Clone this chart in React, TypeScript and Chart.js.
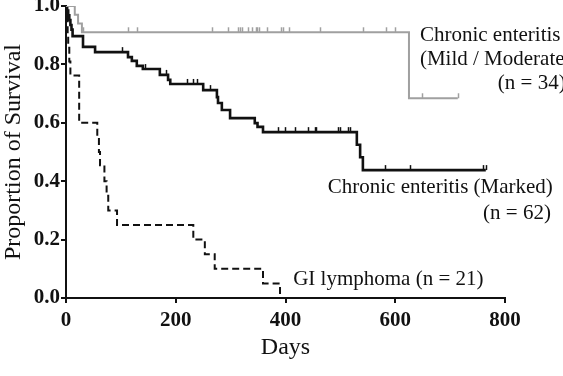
import { useEffect, useRef } from "react";
import { Chart, registerables } from "chart.js";

Chart.register(...registerables);

// ---- Data ----
// GI lymphoma (n = 21)
const giDays = [0, 2, 3, 4, 6, 8, 24, 57, 60, 62, 70, 74, 77, 93, 232, 253, 271, 359, 390];
const giSurv = [1.0, 0.952, 0.905, 0.857, 0.81, 0.762, 0.6, 0.55, 0.5, 0.455, 0.4, 0.35, 0.3, 0.25, 0.2, 0.15, 0.1, 0.05, 0.0];
const giCensor: number[] = [];

// Chronic enteritis (Marked) (n = 62)
const markedDays = [0, 2, 4, 6, 8, 10, 12, 31, 53, 113, 120, 129, 140, 171, 186, 190, 250, 275, 277, 284, 299, 344, 349, 359, 530, 536, 541, 765];
const markedSurv = [1.0, 0.984, 0.968, 0.952, 0.935, 0.919, 0.897, 0.86, 0.842, 0.825, 0.812, 0.795, 0.784, 0.764, 0.747, 0.733, 0.712, 0.688, 0.668, 0.644, 0.616, 0.599, 0.586, 0.568, 0.525, 0.482, 0.438, 0.438];
const markedCensor = [102, 144, 182, 220, 231, 239, 262, 386, 399, 417, 441, 454, 455, 495, 499, 514, 517, 581, 627, 760, 765];

// Chronic enteritis (Mild / Moderate) (n = 34)
const mildDays = [0, 16, 22, 29, 625, 714];
const mildSurv = [1.0, 0.97, 0.94, 0.91, 0.684, 0.684];
const mildCensor = [31, 113, 129, 266, 295, 313, 317, 321, 331, 339, 346, 348, 351, 366, 392, 395, 406, 463, 541, 583, 599, 648, 714];

// Axis ticks
const xTicks = [0, 200, 400, 600, 800];
const yTicks = [0, 0.2, 0.4, 0.6, 0.8, 1.0];

// Annotations (text + anchor in data coordinates)
const noteTexts = ["Chronic enteritis", "(Mild / Moderate)", "(n = 34)", "Chronic enteritis (Marked)", "(n = 62)", "GI lymphoma (n = 21)"];
const noteDays = [645, 645, 787, 477, 760, 414];
const noteSurv = [0.9, 0.818, 0.733, 0.377, 0.291, 0.062];

const SERIF = "'Liberation Serif', 'Times New Roman', serif";

function stepAt(days: number[], surv: number[], t: number) {
  let v = surv[0];
  for (let i = 0; i < days.length; i++) if (days[i] <= t) v = surv[i];
  return v;
}

const toPts = (d: number[], s: number[]) => d.map((x, i) => ({ x, y: s[i] }));

export default function App() {
  const ref = useRef<HTMLCanvasElement>(null);
  useEffect(() => {
    document.body.style.margin = "0";
    const canvas = ref.current!;

    const censorPlugin = {
      id: "censor",
      afterDatasetsDraw(chart: any) {
        const { ctx, scales } = chart;
        const xs = scales.x, ys = scales.y;
        const groups = [
          { d: mildDays, s: mildSurv, c: mildCensor, color: "#a0a0a0" },
          { d: markedDays, s: markedSurv, c: markedCensor, color: "#111" },
          { d: giDays, s: giSurv, c: giCensor, color: "#111" },
        ];
        ctx.save();
        ctx.lineWidth = 1.5;
        for (const g of groups) {
          ctx.strokeStyle = g.color;
          for (const t of g.c) {
            const px = Math.round(xs.getPixelForValue(t)) + 0.5;
            const py = ys.getPixelForValue(stepAt(g.d, g.s, t));
            ctx.beginPath();
            ctx.moveTo(px, py);
            ctx.lineTo(px, py - 5);
            ctx.stroke();
          }
        }
        ctx.restore();
      },
    };

    const notePlugin = {
      id: "notes",
      afterDraw(chart: any) {
        const { ctx, scales } = chart;
        ctx.save();
        ctx.font = `21px ${SERIF}`;
        ctx.fillStyle = "#111";
        ctx.textAlign = "left";
        ctx.textBaseline = "middle";
        noteTexts.forEach((t, i) => {
          ctx.fillText(t, scales.x.getPixelForValue(noteDays[i]), scales.y.getPixelForValue(noteSurv[i]));
        });
        ctx.restore();
      },
    };

    const chart = new Chart(canvas, {
      type: "line",
      data: {
        datasets: [
          {
            label: "Chronic enteritis (Mild / Moderate)",
            data: toPts(mildDays, mildSurv),
            borderColor: "#a0a0a0",
            borderWidth: 2,
            stepped: "before",
            pointRadius: 0,
            fill: false,
          },
          {
            label: "Chronic enteritis (Marked)",
            data: toPts(markedDays, markedSurv),
            borderColor: "#111",
            borderWidth: 2.6,
            stepped: "before",
            pointRadius: 0,
            fill: false,
          },
          {
            label: "GI lymphoma",
            data: toPts(giDays, giSurv),
            borderColor: "#111",
            borderWidth: 2,
            borderDash: [7, 4],
            stepped: "before",
            pointRadius: 0,
            fill: false,
          },
        ],
      },
      options: {
        responsive: false,
        maintainAspectRatio: false,
        animation: false,
        devicePixelRatio: 1,
        layout: { padding: { left: 0, top: 6, right: 58, bottom: 0 } },
        plugins: { legend: { display: false }, tooltip: { enabled: false } },
        scales: {
          x: {
            type: "linear",
            min: 0,
            max: 800,
            afterBuildTicks: (s: any) => {
              s.ticks = xTicks.map((v) => ({ value: v }));
            },
            afterFit: (s: any) => {
              s.height = 78;
              s.paddingLeft = 0;
              s.paddingRight = 0;
            },
            ticks: {
              color: "#111",
              font: { family: SERIF, size: 21, weight: "bold" },
              padding: 5,
              maxRotation: 0,
              callback: (v: any) => String(v),
            },
            grid: { drawOnChartArea: false, drawTicks: true, tickLength: 5, color: "#111", lineWidth: 2 },
            border: { display: true, color: "#111", width: 2 },
            title: {
              display: true,
              text: "Days",
              color: "#111",
              font: { family: SERIF, size: 24, lineHeight: 1 },
              padding: { top: 0, bottom: 16 },
            },
          },
          y: {
            type: "linear",
            min: 0,
            max: 1,
            afterBuildTicks: (s: any) => {
              s.ticks = yTicks.map((v) => ({ value: v }));
            },
            afterFit: (s: any) => {
              s.width = 66;
              s.paddingTop = 0;
              s.paddingBottom = 0;
            },
            ticks: {
              color: "#111",
              font: { family: SERIF, size: 21, weight: "bold" },
              padding: 1,
              callback: (v: any) => Number(v).toFixed(1),
            },
            grid: { drawOnChartArea: false, drawTicks: true, tickLength: 5, color: "#111", lineWidth: 2 },
            border: { display: true, color: "#111", width: 2 },
            title: {
              display: true,
              text: "Proportion of Survival",
              color: "#111",
              font: { family: SERIF, size: 24, lineHeight: 1 },
              padding: { top: 2, bottom: 0 },
            },
          },
        },
      },
      plugins: [censorPlugin, notePlugin],
    } as any);
    return () => chart.destroy();
  }, []);
  return (
    <div style={{ width: 563, height: 376 }}>
      <canvas ref={ref} width={563} height={376} style={{ display: "block" }} />
    </div>
  );
}
